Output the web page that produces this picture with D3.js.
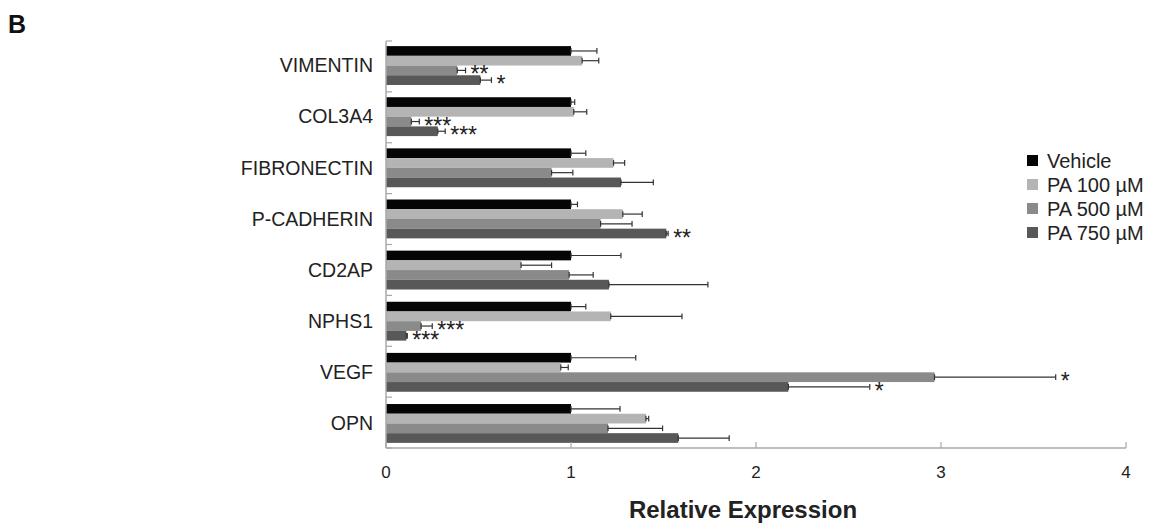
<!DOCTYPE html>
<html>
<head>
<meta charset="utf-8">
<script src="https://cdn.jsdelivr.net/npm/d3@7"></script>
<style>
  body { margin: 0; background: #fff; }
  svg { font-family: "Liberation Sans", Arial, sans-serif; }
</style>
</head>
<body>
<svg width="1152" height="526"></svg>
<script>
const genes = ["VIMENTIN", "COL3A4", "FIBRONECTIN", "P-CADHERIN", "CD2AP", "NPHS1", "VEGF", "OPN"];
const groups = ["Vehicle", "PA 100 µM", "PA 500 µM", "PA 750 µM"];
const colors = ["#050505", "#b4b4b4", "#8a8a8a", "#585858"];

// mean values per group, in gene order
const vehicle = [1.00, 1.00, 1.00, 1.00, 1.00, 1.00, 1.00, 1.00];
const pa100   = [1.06, 1.015, 1.23, 1.28, 0.73, 1.215, 0.945, 1.405];
const pa500   = [0.385, 0.137, 0.895, 1.16, 0.99, 0.19, 2.965, 1.20];
const pa750   = [0.51, 0.28, 1.27, 1.515, 1.205, 0.11, 2.175, 1.58];

// upper end of each error bar
const vehicleErr = [1.14, 1.02, 1.08, 1.035, 1.27, 1.08, 1.35, 1.265];
const pa100Err   = [1.15, 1.085, 1.29, 1.385, 0.895, 1.60, 0.985, 1.42];
const pa500Err   = [0.43, 0.18, 1.01, 1.33, 1.12, 0.25, 3.62, 1.495];
const pa750Err   = [0.57, 0.32, 1.445, 1.525, 1.74, 0.115, 2.615, 1.855];

// significance marks: [gene, group index, label]
const stars = [
  ["VIMENTIN", 2, "**"], ["VIMENTIN", 3, "*"],
  ["COL3A4", 2, "***"], ["COL3A4", 3, "***"],
  ["P-CADHERIN", 3, "**"],
  ["NPHS1", 2, "***"], ["NPHS1", 3, "***"],
  ["VEGF", 2, "*"], ["VEGF", 3, "*"]
];

const xTicks = [0, 1, 2, 3, 4];

const means = [vehicle, pa100, pa500, pa750];
const errs = [vehicleErr, pa100Err, pa500Err, pa750Err];

const svg = d3.select("svg");
const margin = {top: 41, left: 386, right: 26, bottom: 78};
const width = 1152 - margin.left - margin.right;
const height = 526 - margin.top - margin.bottom;
const g = svg.append("g").attr("transform", `translate(${margin.left},${margin.top})`);

const x = d3.scaleLinear().domain([0, 4]).range([0, width]);
const y = d3.scaleBand().domain(genes).range([0, height]).paddingInner(0.24).paddingOuter(0.1);
const yg = d3.scaleBand().domain(d3.range(groups.length)).range([0, y.bandwidth()]);

const data = [];
genes.forEach((gene, i) => {
  groups.forEach((grp, j) => {
    data.push({gene: gene, k: j, v: means[j][i], e: errs[j][i]});
  });
});

// bars
g.selectAll(".bar")
  .data(data)
  .enter().append("rect")
  .attr("class", "bar")
  .attr("x", 0)
  .attr("y", d => y(d.gene) + yg(d.k))
  .attr("width", d => x(d.v))
  .attr("height", yg.bandwidth())
  .attr("fill", d => colors[d.k]);

// error bars
const eb = g.selectAll(".err").data(data).enter().append("g").attr("class", "err")
  .attr("stroke", "#333").attr("stroke-width", 1.2);
eb.append("line")
  .attr("x1", d => x(d.v)).attr("x2", d => x(d.e))
  .attr("y1", d => y(d.gene) + yg(d.k) + yg.bandwidth() / 2)
  .attr("y2", d => y(d.gene) + yg(d.k) + yg.bandwidth() / 2);
eb.append("line")
  .attr("x1", d => x(d.e)).attr("x2", d => x(d.e))
  .attr("y1", d => y(d.gene) + yg(d.k) + 2)
  .attr("y2", d => y(d.gene) + yg(d.k) + yg.bandwidth() - 2);
eb.append("line")
  .attr("x1", d => x(d.v)).attr("x2", d => x(d.v))
  .attr("y1", d => y(d.gene) + yg(d.k) + 2)
  .attr("y2", d => y(d.gene) + yg(d.k) + yg.bandwidth() - 2);

// significance stars
g.selectAll(".star")
  .data(stars)
  .enter().append("text")
  .attr("class", "star")
  .attr("x", d => x(errs[d[1]][genes.indexOf(d[0])]) + 5)
  .attr("y", d => y(d[0]) + yg(d[1]) + yg.bandwidth() / 2 + 12)
  .attr("font-size", 23)
  .attr("letter-spacing", 0)
  .attr("fill", "#222")
  .text(d => d[2]);

// axes
const axisColor = "#a8a8a8";
g.append("line").attr("x1", 0).attr("x2", 0).attr("y1", 0).attr("y2", height)
  .attr("stroke", axisColor).attr("stroke-width", 1.5);
g.append("line").attr("x1", 0).attr("x2", width).attr("y1", height).attr("y2", height)
  .attr("stroke", axisColor).attr("stroke-width", 1.5);

const bounds = d3.range(genes.length + 1).map(i => i * height / genes.length);
g.selectAll(".ytick").data(bounds).enter().append("line")
  .attr("x1", 0).attr("x2", 6).attr("y1", d => d).attr("y2", d => d)
  .attr("stroke", axisColor).attr("stroke-width", 1.2);

g.selectAll(".xtick").data(xTicks).enter().append("line")
  .attr("x1", d => x(d)).attr("x2", d => x(d)).attr("y1", height).attr("y2", height - 6)
  .attr("stroke", axisColor).attr("stroke-width", 1.2);

g.selectAll(".xlabel").data(xTicks).enter().append("text")
  .attr("x", d => x(d)).attr("y", height + 30)
  .attr("text-anchor", "middle").attr("font-size", 17).attr("fill", "#222")
  .text(d => d);

g.selectAll(".ylabel").data(genes).enter().append("text")
  .attr("x", -13).attr("y", d => y(d) + y.bandwidth() / 2)
  .attr("dy", "0.35em")
  .attr("text-anchor", "end").attr("font-size", 19.5).attr("fill", "#222")
  .text(d => d);

svg.append("text")
  .attr("x", margin.left + x(2) - 13).attr("y", 518)
  .attr("text-anchor", "middle").attr("font-size", 24).attr("font-weight", "bold").attr("fill", "#222")
  .text("Relative Expression");

svg.append("text")
  .attr("x", 8).attr("y", 33)
  .attr("font-size", 25).attr("font-weight", "bold").attr("fill", "#111")
  .text("B");

// legend
const legend = svg.append("g").attr("transform", "translate(1027,155)");
const li = legend.selectAll(".li").data(groups).enter().append("g")
  .attr("transform", (d, i) => `translate(0,${i * 24})`);
li.append("rect").attr("width", 11).attr("height", 11).attr("fill", (d, i) => colors[i]);
li.append("text").attr("x", 20).attr("y", 6).attr("dy", "0.35em")
  .attr("font-size", 20).attr("fill", "#222").text(d => d);
</script>
</body>
</html>
